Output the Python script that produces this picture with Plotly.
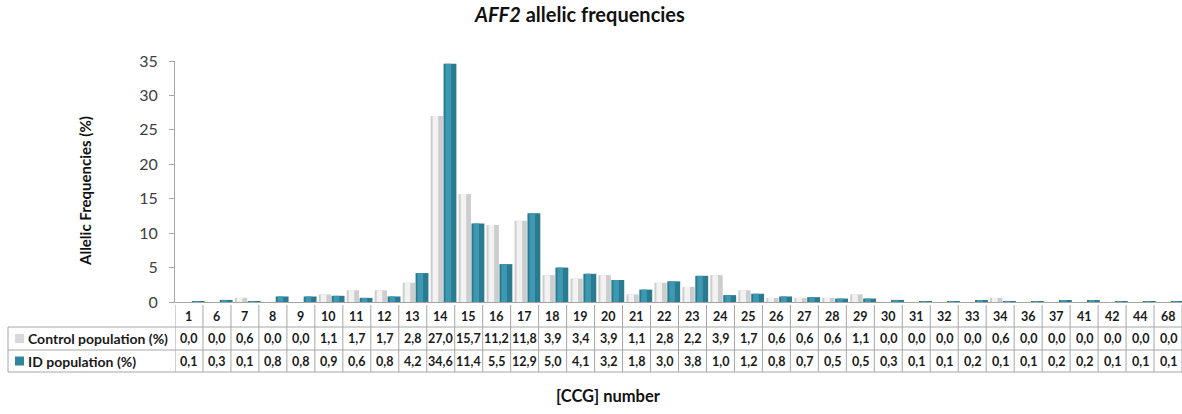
import plotly.graph_objects as go

# [CCG] repeat numbers and allelic frequencies (%)
ccg = ["1", "6", "7", "8", "9", "10", "11", "12", "13", "14", "15", "16", "17", "18",
       "19", "20", "21", "22", "23", "24", "25", "26", "27", "28", "29", "30", "31",
       "32", "33", "34", "36", "37", "41", "42", "44", "68"]
control = [0.0, 0.0, 0.6, 0.0, 0.0, 1.1, 1.7, 1.7, 2.8, 27.0, 15.7, 11.2, 11.8, 3.9,
           3.4, 3.9, 1.1, 2.8, 2.2, 3.9, 1.7, 0.6, 0.6, 0.6, 1.1, 0.0, 0.0, 0.0, 0.0,
           0.6, 0.0, 0.0, 0.0, 0.0, 0.0, 0.0]
id_pop = [0.1, 0.3, 0.1, 0.8, 0.8, 0.9, 0.6, 0.8, 4.2, 34.6, 11.4, 5.5, 12.9, 5.0,
          4.1, 3.2, 1.8, 3.0, 3.8, 1.0, 1.2, 0.8, 0.7, 0.5, 0.5, 0.3, 0.1, 0.1, 0.2,
          0.1, 0.1, 0.2, 0.2, 0.1, 0.1, 0.1]
series_names = ["Control population (%)", "ID population (%)"]

W, H = 1182, 414
ML, MR, MT, MB = 175, 0, 61, 112
PW, PH = W - ML - MR, H - MT - MB
FONT = "Lato"
GRAY = "#d9d9d9"
TEAL = "#31859c"
GRID = "#a6a6a6"
TXT = "#1a1a1a"


def px_x(x):
    return (x - ML) / PW


def px_y(y):
    return (H - MB - y) / PH


idx = list(range(len(ccg)))
fig = go.Figure()

# cylinder-like bars: base colour plus a lighter highlight stripe
fig.add_trace(go.Bar(x=idx, y=control, name=series_names[0], marker_color="#cdcdcd",
                     offset=-0.36, width=0.44, marker_line_width=0))
fig.add_trace(go.Bar(x=idx, y=control, showlegend=False, hoverinfo="skip",
                     marker_color="#f2f2f2", offset=-0.29, width=0.2, marker_line_width=0))
fig.add_trace(go.Bar(x=idx, y=id_pop, name=series_names[1], marker_color="#2a7a90",
                     offset=0.10, width=0.46, marker_line_width=0))
fig.add_trace(go.Bar(x=idx, y=id_pop, showlegend=False, hoverinfo="skip",
                     marker_color="#3f98b1", offset=0.17, width=0.2, marker_line_width=0))

shapes = []
annotations = []

# data table below the plot
y_top, y_r1, y_r2, y_r3 = px_y(305), px_y(327), px_y(350), px_y(372)
for i in range(len(ccg) + 1):
    shapes.append(dict(type="line", xref="x", yref="paper", x0=i - 0.5, x1=i - 0.5,
                       y0=y_top, y1=y_r3, line=dict(color=GRID, width=1)))
for yy in (y_r1, y_r2, y_r3):
    shapes.append(dict(type="line", xref="paper", yref="paper", x0=px_x(8), x1=1,
                       y0=yy, y1=yy, line=dict(color=GRID, width=1)))
shapes.append(dict(type="line", xref="paper", yref="paper", x0=px_x(8), x1=px_x(8),
                   y0=y_r1, y1=y_r3, line=dict(color=GRID, width=1)))

# legend keys inside the table
for yy, col in ((338.5, GRAY), (361, TEAL)):
    shapes.append(dict(type="rect", xref="paper", yref="paper",
                       x0=px_x(15), x1=px_x(24), y0=px_y(yy + 4.5), y1=px_y(yy - 4.5),
                       fillcolor=col, line=dict(width=0)))
for yy, name in ((338.5, series_names[0]), (361, series_names[1])):
    annotations.append(dict(xref="paper", yref="paper", x=px_x(26), y=px_y(yy),
                            text="<b>%s</b>" % name, showarrow=False, xanchor="left",
                            yanchor="middle", font=dict(family=FONT, size=14, color=TXT)))


def fmt(v):
    return ("%.1f" % v).replace(".", ",")


cell_font = dict(family=FONT, size=12.5, color=TXT)
for i, c in enumerate(ccg):
    annotations.append(dict(xref="x", yref="paper", x=i, y=px_y(316), text="<b>%s</b>" % c,
                            showarrow=False, yanchor="middle", font=cell_font))
    annotations.append(dict(xref="x", yref="paper", x=i, y=px_y(338.5),
                            text="<b>%s</b>" % fmt(control[i]), showarrow=False,
                            yanchor="middle", font=cell_font))
    annotations.append(dict(xref="x", yref="paper", x=i, y=px_y(361),
                            text="<b>%s</b>" % fmt(id_pop[i]), showarrow=False,
                            yanchor="middle", font=cell_font))

# titles
annotations.append(dict(xref="paper", yref="paper", x=px_x(579), y=px_y(14),
                        text="<b><i>AFF2</i> allelic frequencies</b>", showarrow=False,
                        yanchor="middle", font=dict(family=FONT, size=20, color="#111111")))
annotations.append(dict(xref="paper", yref="paper", x=px_x(608), y=px_y(396),
                        text="<b>[CCG] number</b>", showarrow=False, yanchor="middle",
                        font=dict(family=FONT, size=16.5, color="#111111")))
annotations.append(dict(xref="paper", yref="paper", x=px_x(85), y=px_y(191),
                        text="<b>Allelic Frequencies (%)</b>", showarrow=False,
                        textangle=-90, xanchor="center", yanchor="middle",
                        font=dict(family=FONT, size=15, color="#111111")))

fig.update_layout(
    width=W, height=H,
    margin=dict(l=ML, r=MR, t=MT, b=MB),
    paper_bgcolor="white", plot_bgcolor="white",
    barmode="overlay", showlegend=False,
    font=dict(family=FONT),
    shapes=shapes, annotations=annotations,
)
fig.update_xaxes(range=[-0.5, len(ccg) - 0.5], showticklabels=False, ticks="",
                 showgrid=False, zeroline=False, showline=True, linecolor=GRID,
                 linewidth=1)
fig.update_yaxes(range=[0, 35], tickvals=[0, 5, 10, 15, 20, 25, 30, 35],
                 ticks="outside", ticklen=5, tickcolor=GRID, showline=True,
                 linecolor=GRID, linewidth=1, showgrid=False, zeroline=False,
                 tickfont=dict(family=FONT, size=16, color="#404040"),
                 ticklabelstandoff=8)

fig.write_html("out.html")
